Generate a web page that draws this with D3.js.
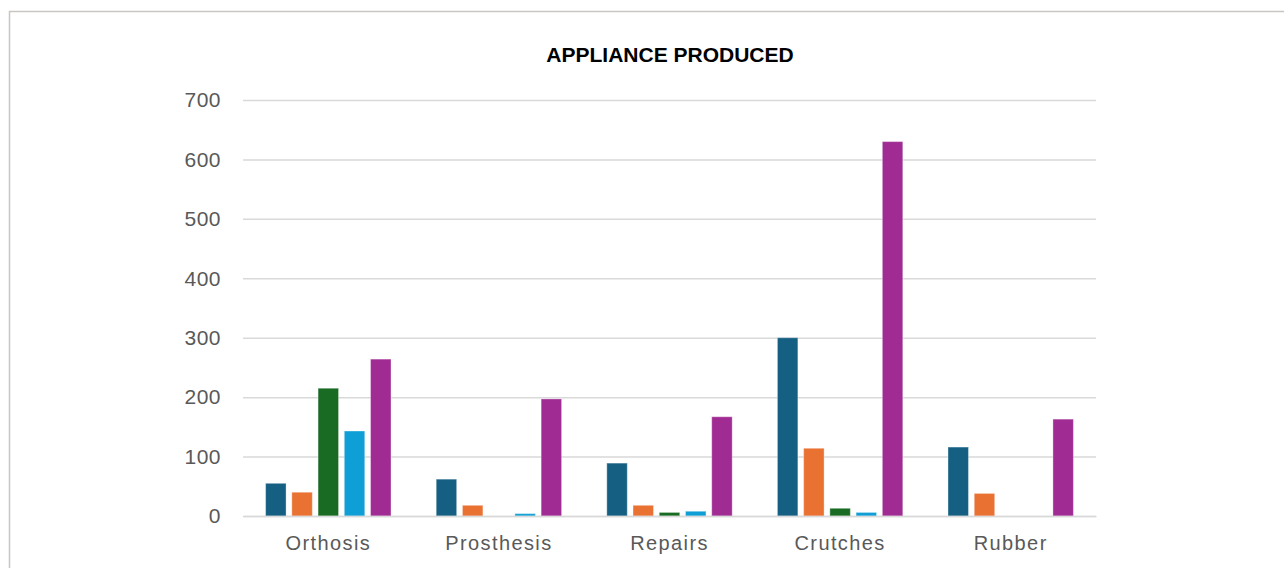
<!DOCTYPE html>
<html>
<head>
<meta charset="utf-8">
<script src="https://cdn.jsdelivr.net/npm/d3@7"></script>
<style>
  html, body { margin: 0; padding: 0; background: #fff; }
  svg { display: block; }
</style>
</head>
<body>
<svg id="chart" width="1284" height="568"></svg>
<script>
// ---- data ----
const title = "APPLIANCE PRODUCED";
const categories = ["Orthosis", "Prosthesis", "Repairs", "Crutches", "Rubber"];
const seriesNames = ["Series 1", "Series 2", "Series 3", "Series 4", "Series 5"];
const series1 = [55, 62, 89, 300, 116];
const series2 = [40, 18, 18, 114, 38];
const series3 = [215, 0, 6, 13, 0];
const series4 = [143, 4, 8, 6, 0];
const series5 = [264, 197, 167, 630, 163];
const yTicks = [0, 100, 200, 300, 400, 500, 600, 700];
const colors = ["#156082", "#E97132", "#196B24", "#0F9ED5", "#A02B93"];

const seriesValues = [series1, series2, series3, series4, series5];

// ---- layout ----
const svg = d3.select("#chart");
const W = 1284, H = 568;
const plot = { left: 243, right: 1096, top: 100, bottom: 516 };

// frame
svg.append("path")
  .attr("d", `M9.5,${H} L9.5,11.5 L${W},11.5`)
  .attr("fill", "none")
  .attr("stroke", "#c9c5c1")
  .attr("stroke-width", 1.5);

// title
svg.append("text")
  .attr("x", 670)
  .attr("y", 62)
  .attr("text-anchor", "middle")
  .attr("font-family", "Liberation Sans, Arial, sans-serif")
  .attr("font-weight", "bold")
  .attr("font-size", 21)
  .attr("fill", "#000")
  .text(title);

const y = d3.scaleLinear().domain([0, 700]).range([plot.bottom, plot.top]);
const x0 = d3.scaleBand().domain(categories).range([plot.left, plot.right]).padding(0);
const groupFrac = 0.735;
const x1 = d3.scaleBand().domain(seriesNames)
  .range([x0.bandwidth() * (1 - groupFrac) / 2, x0.bandwidth() * (1 + groupFrac) / 2])
  .paddingInner(0.22).paddingOuter(0);

// gridlines
const yAxis = d3.axisLeft(y).tickValues(yTicks).tickSize(-(plot.right - plot.left)).tickPadding(22);
const gy = svg.append("g").attr("transform", `translate(${plot.left},0)`).call(yAxis);
gy.select(".domain").remove();
gy.selectAll(".tick line").attr("stroke", "#d9d9d9").attr("stroke-width", 1.5);
gy.selectAll(".tick text")
  .attr("font-family", "Liberation Sans, Arial, sans-serif")
  .attr("font-size", 21)
  .attr("letter-spacing", 0.5)
  .attr("fill", "#595959");

// bars
const groups = svg.append("g").selectAll("g")
  .data(categories)
  .join("g")
  .attr("transform", d => `translate(${x0(d)},0)`);

groups.selectAll("rect")
  .data((c, ci) => seriesNames.map((s, si) => ({ s, si, v: seriesValues[si][ci] })))
  .join("rect")
  .filter(d => d.v > 0)
  .attr("x", d => x1(d.s))
  .attr("width", x1.bandwidth())
  .attr("y", d => y(d.v))
  .attr("height", d => y(0) - y(d.v))
  .attr("fill", d => colors[d.si])
  .attr("stroke", "#fff")
  .attr("stroke-opacity", 0.35)
  .attr("stroke-width", 1);

// x axis
const xAxis = d3.axisBottom(x0).tickSize(0).tickPadding(20);
const gx = svg.append("g").attr("transform", `translate(0,${plot.bottom})`).call(xAxis);
gx.select(".domain").attr("stroke", "#d9d9d9").attr("stroke-width", 1.5);
gx.selectAll(".tick text")
  .attr("font-family", "Liberation Sans, Arial, sans-serif")
  .attr("font-size", 20)
  .attr("letter-spacing", 1.4)
  .attr("fill", "#595959");
</script>
</body>
</html>
